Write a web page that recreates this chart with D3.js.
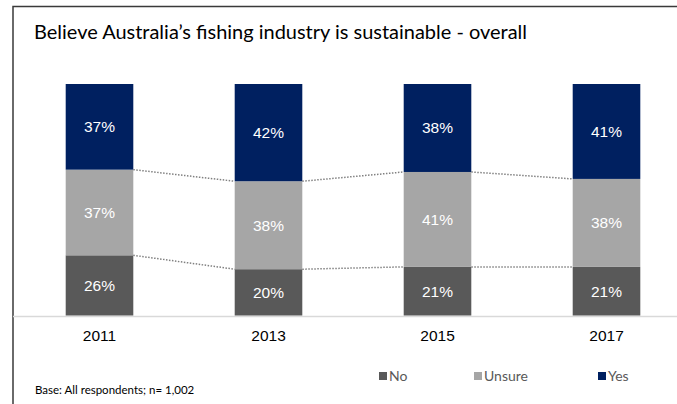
<!DOCTYPE html>
<html>
<head>
<meta charset="utf-8">
<script src="https://cdn.jsdelivr.net/npm/d3@7"></script>
<style>
  body { margin: 0; background: #fff; }
  svg { display: block; }
</style>
</head>
<body>
<script>
// data
var years = ["2011", "2013", "2015", "2017"];
var noVals = [26, 20, 21, 21];
var unsureVals = [37, 38, 41, 38];
var yesVals = [37, 42, 38, 41];
var seriesNames = ["No", "Unsure", "Yes"];
var seriesColors = ["#595959", "#a6a6a6", "#002060"];

var width = 677, height = 404;
var svg = d3.select("body").append("svg").attr("width", width).attr("height", height);

// frame
svg.append("path")
  .attr("d", "M13," + height + "V6.5H" + width)
  .attr("fill", "none").attr("stroke", "#3a3a3a").attr("stroke-width", 1.5);

// title
svg.append("text")
  .attr("x", 34).attr("y", 39)
  .attr("font-family", "Lato, 'Open Sans', sans-serif")
  .attr("font-size", 18.5)
  .attr("fill", "#000")
  .attr("textLength", 493).attr("lengthAdjust", "spacingAndGlyphs")
  .text("Believe Australia\u2019s fishing industry is sustainable - overall");

// stack data
var rows = years.map(function(y, i) {
  return { year: y, No: noVals[i], Unsure: unsureVals[i], Yes: yesVals[i] };
});
var stacked = d3.stack().keys(seriesNames)(rows);

var xScale = d3.scaleBand()
  .domain(years)
  .range([15, 691])
  .paddingInner(0.6)
  .paddingOuter(0.3);

var yScale = d3.scaleLinear()
  .domain([0, 100])
  .range([315.5, 84]);

// baseline
svg.append("line")
  .attr("x1", 13).attr("x2", width)
  .attr("y1", 316.5).attr("y2", 316.5)
  .attr("stroke", "#d9d9d9").attr("stroke-width", 1.5);

// dotted connectors between bars
stacked.slice(0, 2).forEach(function(layer) {
  for (var i = 0; i < layer.length - 1; i++) {
    svg.append("line")
      .attr("x1", xScale(years[i]) + xScale.bandwidth())
      .attr("y1", yScale(layer[i][1]))
      .attr("x2", xScale(years[i + 1]))
      .attr("y2", yScale(layer[i + 1][1]))
      .attr("stroke", "#808080")
      .attr("stroke-width", 1.5)
      .attr("stroke-dasharray", "1.5,1.5");
  }
});

// bars
var groups = svg.selectAll("g.layer")
  .data(stacked)
  .enter().append("g")
  .attr("class", "layer")
  .attr("fill", function(d, i) { return seriesColors[i]; });

groups.selectAll("rect")
  .data(function(d) { return d; })
  .enter().append("rect")
  .attr("x", function(d) { return xScale(d.data.year); })
  .attr("y", function(d) { return yScale(d[1]); })
  .attr("width", xScale.bandwidth())
  .attr("height", function(d) { return yScale(d[0]) - yScale(d[1]); });

groups.selectAll("text")
  .data(function(d) { return d; })
  .enter().append("text")
  .attr("x", function(d) { return xScale(d.data.year) + xScale.bandwidth() / 2; })
  .attr("y", function(d) { return (yScale(d[0]) + yScale(d[1])) / 2 + 5.5; })
  .attr("text-anchor", "middle")
  .attr("font-family", "'Liberation Sans', Arial, sans-serif")
  .attr("font-weight", "normal")
  .attr("font-size", 15.5)
  .attr("fill", "#fff")
  .text(function(d) { return (d[1] - d[0]) + "%"; });

// x axis labels
var xAxis = d3.axisBottom(xScale).tickSize(0).tickPadding(0);
var axisG = svg.append("g")
  .attr("transform", "translate(0,330)")
  .call(xAxis);
axisG.select(".domain").remove();
axisG.selectAll("text")
  .attr("font-family", "'Liberation Sans', Arial, sans-serif")
  .attr("font-weight", "normal")
  .attr("font-size", 15.5)
  .attr("fill", "#000")
  .attr("dy", "0.71em");

// legend
var legendX = [379, 474, 598];
var legend = svg.selectAll("g.legend")
  .data(seriesNames)
  .enter().append("g")
  .attr("class", "legend")
  .attr("transform", function(d, i) { return "translate(" + legendX[i] + ",372)"; });
legend.append("rect")
  .attr("width", 8).attr("height", 8)
  .attr("fill", function(d, i) { return seriesColors[i]; });
legend.append("text")
  .attr("x", 10).attr("y", 9)
  .attr("font-family", "Lato, 'Open Sans', sans-serif")
  .attr("font-size", 14)
  .attr("fill", "#595959")
  .text(function(d) { return d; });

// footnote
svg.append("text")
  .attr("x", 35).attr("y", 394)
  .attr("font-family", "Lato, 'Open Sans', sans-serif")
  .attr("font-size", 11.5)
  .attr("fill", "#000")
  .text("Base: All respondents; n= 1,002");
</script>
</body>
</html>
